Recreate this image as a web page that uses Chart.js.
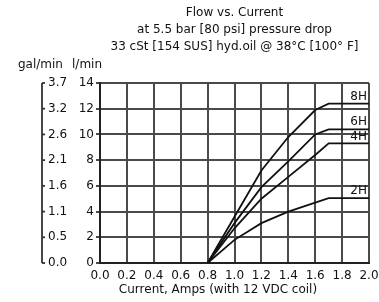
<!DOCTYPE html>
<html>
<head>
<meta charset="utf-8">
<script src="https://cdn.jsdelivr.net/npm/chart.js@4"></script>
<style>
  html, body { margin: 0; padding: 0; background: #fff; }
  #wrap { width: 379px; height: 302px; }
</style>
</head>
<body>
<div id="wrap"><canvas id="flowChart" width="379" height="302"></canvas></div>
<script>
// Flow vs. current
const currentAmps = [0.8, 1.0, 1.2, 1.4, 1.6, 1.7, 2.0];
const flow8H = [0, 3.6, 7.2, 9.8, 11.9, 12.4, 12.4];
const flow6H = [0, 3.1, 5.9, 7.9, 10.0, 10.4, 10.4];
const flow4H = [0, 2.7, 5.0, 6.7, 8.4, 9.3, 9.3];
const flow2H = [0, 1.8, 3.1, 4.0, 4.7, 5.05, 5.05];
const seriesNames = ['8H', '6H', '4H', '2H'];

// tick labels
const lminTicks = [0, 2, 4, 6, 8, 10, 12, 14];
const galTicks = ['0.0', '0.5', '1.1', '1.6', '2.1', '2.6', '3.2', '3.7'];

const titleLines = [
    'Flow vs. Current',
    'at 5.5 bar [80 psi] pressure drop',
    '33 cSt [154 SUS] hyd.oil @ 38\u00B0C [100\u00B0 F]'
];
const xTitle = 'Current, Amps (with 12 VDC coil)';

const FONT = '"DejaVu Sans", sans-serif';
const INK = '#111';

function toPoints(ys) {
    return currentAmps.map((x, i) => ({ x: x, y: ys[i] }));
}

// gal/min axis, unit labels, x title and curve names
const extrasPlugin = {
    id: 'extras',
    afterDraw(chart) {
        const ctx = chart.ctx;
        const y = chart.scales.y;
        const area = chart.chartArea;
        ctx.save();
        ctx.fillStyle = INK;
        ctx.strokeStyle = '#333';
        ctx.font = '12px ' + FONT;

        // gal/min axis line
        const gx = 42;
        ctx.lineWidth = 1.8;
        ctx.beginPath();
        ctx.moveTo(gx, y.getPixelForValue(14));
        ctx.lineTo(gx, y.getPixelForValue(0));
        ctx.stroke();
        ctx.textAlign = 'left';
        ctx.textBaseline = 'middle';
        lminTicks.forEach((v, i) => {
            const py = y.getPixelForValue(v);
            ctx.beginPath();
            ctx.moveTo(gx, py);
            ctx.lineTo(gx + 3, py);
            ctx.stroke();
            ctx.fillText(galTicks[i], 48, py);
        });

        // unit labels
        ctx.fillText('gal/min', 18, 65);
        ctx.fillText('l/min', 72, 65);

        // x axis title
        ctx.textAlign = 'center';
        ctx.fillText(xTitle, 218, 290);

        // curve names above the flat ends
        ctx.textAlign = 'right';
        ctx.textBaseline = 'bottom';
        chart.data.datasets.forEach((ds, i) => {
            const pts = chart.getDatasetMeta(i).data;
            const last = pts[pts.length - 1];
            ctx.fillText(ds.label, area.right - 2, last.y - 1);
        });
        ctx.restore();
    }
};

const seriesData = [flow8H, flow6H, flow4H, flow2H];

new Chart(document.getElementById('flowChart'), {
    type: 'line',
    data: {
        datasets: seriesData.map((ys, i) => ({
            label: seriesNames[i],
            data: toPoints(ys),
            borderColor: '#111',
            borderWidth: 1.8,
            pointRadius: 0,
            tension: 0,
            fill: false
        }))
    },
    options: {
        responsive: false,
        animation: false,
        devicePixelRatio: 1,
        layout: { padding: { left: 0, right: 10, top: 0, bottom: 0 } },
        plugins: {
            legend: { display: false },
            tooltip: { enabled: false },
            title: {
                display: true,
                fullSize: false,
                text: titleLines,
                color: INK,
                font: { family: FONT, size: 12, weight: 'normal', lineHeight: 17 / 12 },
                padding: { top: 4, bottom: 28 }
            }
        },
        scales: {
            x: {
                type: 'linear',
                min: 0,
                max: 2,
                afterFit: (scale) => {
                    scale.height = 39;
                    scale.paddingRight = 0;
                    scale.paddingLeft = 0;
                },
                ticks: {
                    stepSize: 0.2,
                    color: INK,
                    padding: 6,
                    maxRotation: 0,
                    autoSkip: false,
                    font: { family: FONT, size: 12 },
                    callback: (v) => Number(v).toFixed(1)
                },
                grid: { color: '#4a4a4a', lineWidth: 2, drawTicks: false },
                border: { color: '#222', width: 2 }
            },
            y: {
                min: 0,
                max: 14,
                afterFit: (scale) => { scale.width = 100; },
                ticks: {
                    stepSize: 2,
                    color: INK,
                    padding: 2,
                    font: { family: FONT, size: 12 }
                },
                grid: { color: '#4a4a4a', lineWidth: 2, tickLength: 4 },
                border: { color: '#222', width: 2 }
            }
        }
    },
    plugins: [extrasPlugin]
});
</script>
</body>
</html>
